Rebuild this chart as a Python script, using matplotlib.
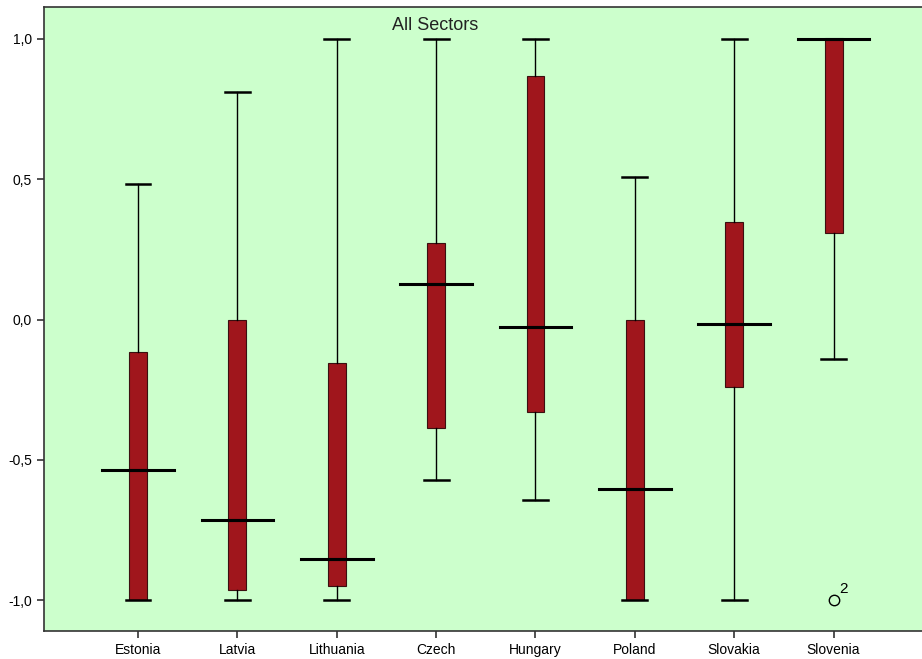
import matplotlib.pyplot as plt
from matplotlib.ticker import FuncFormatter

plt.rcParams["font.family"] = ["Liberation Sans", "DejaVu Sans"]

countries = ["Estonia", "Latvia", "Lithuania", "Czech", "Hungary", "Poland", "Slovakia", "Slovenia"]
whis_hi = [0.483, 0.811, 1.0, 1.0, 1.0, 0.508, 1.0, 1.0]
q3 = [-0.116, 0.0, -0.155, 0.273, 0.868, 0.0, 0.348, 1.0]
medians = [-0.537, -0.715, -0.854, 0.127, -0.027, -0.604, -0.016, 1.0]
q1 = [-1.0, -0.964, -0.95, -0.387, -0.33, -1.0, -0.241, 0.308]
whis_lo = [-1.0, -1.0, -1.0, -0.572, -0.643, -1.0, -1.0, -0.141]
fliers = [[], [], [], [], [], [], [], [-1.0]]
flier_labels = {7: "2"}

stats = []
for i, c in enumerate(countries):
    stats.append({"label": c, "med": medians[i], "q1": q1[i], "q3": q3[i],
                  "whislo": whis_lo[i], "whishi": whis_hi[i], "fliers": fliers[i]})

fig = plt.figure(figsize=(9.22, 6.59), dpi=100)
ax = fig.add_axes([44 / 922, 28 / 659, 1 - 44 / 922, 624 / 659])
ax.set_facecolor("#CCFFCC")

pos = list(range(1, len(countries) + 1))
ax.bxp(stats, positions=pos, widths=0.18, patch_artist=True,
       boxprops=dict(facecolor="#A0161C", edgecolor="#3a1010", linewidth=0.8),
       medianprops=dict(color="black", linewidth=2.2),
       whiskerprops=dict(color="black", linewidth=1.0),
       capprops=dict(color="black", linewidth=1.8),
       capwidths=0.25,
       flierprops=dict(marker="o", markerfacecolor="none", markeredgecolor="black",
                       markersize=7.5, markeredgewidth=1.0))

# median line reaches past the box, SPSS style
for i, m in enumerate(medians):
    ax.plot([pos[i] - 0.36, pos[i] + 0.36], [m, m], color="black", linewidth=2.2, zorder=3)

for i, lab in flier_labels.items():
    for f in fliers[i]:
        ax.text(pos[i] + 0.06, f + 0.015, lab, fontsize=11, ha="left", va="bottom")

ax.set_xlim(0.054, 8.89)
ax.set_ylim(-1.11, 1.114)
ax.set_yticks([-1.0, -0.5, 0.0, 0.5, 1.0])
ax.yaxis.set_major_formatter(FuncFormatter(lambda v, p: f"{v:.1f}".replace(".", ",")))
ax.set_xticks(pos)
ax.set_xticklabels(countries)
ax.tick_params(axis="both", labelsize=10, length=5, width=1.2, color="#333333")
ax.spines["right"].set_visible(False)
for s in ["left", "bottom", "top"]:
    ax.spines[s].set_color("#333333")
    ax.spines[s].set_linewidth(1.2)

ax.text(0.445, 0.984, "All Sectors", transform=ax.transAxes, ha="center", va="top",
        fontsize=13, color="#222222")

fig.savefig("out.png", dpi=100)
